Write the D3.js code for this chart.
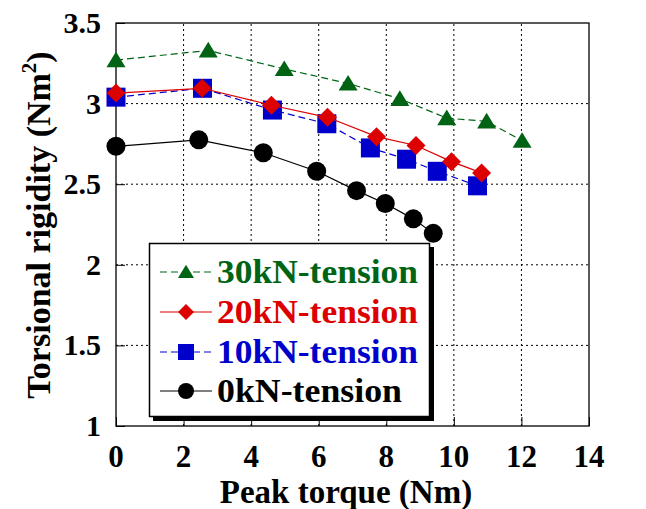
<!DOCTYPE html>
<html>
<head>
<meta charset="utf-8">
<script src="https://cdn.jsdelivr.net/npm/d3@7"></script>
</head>
<body style="margin:0;padding:0;background:#fff">
<svg id="chart" width="646" height="509" style="display:block"></svg>
<script>
// Peak torque (Nm) and torsional rigidity (Nm^2) per tension level
const torque30 = [0, 2.73, 4.98, 6.87, 8.40, 9.79, 10.97, 12.02];
const rigid30  = [3.27, 3.33, 3.215, 3.125, 3.03, 2.91, 2.89, 2.77];
const torque20 = [0, 2.55, 4.60, 6.26, 7.71, 8.88, 9.93, 10.82];
const rigid20  = [3.065, 3.095, 2.99, 2.915, 2.795, 2.74, 2.64, 2.57];
const torque10 = [0, 2.56, 4.63, 6.24, 7.53, 8.60, 9.51, 10.70];
const rigid10  = [3.04, 3.095, 2.96, 2.875, 2.725, 2.655, 2.58, 2.49];
const torque0  = [0, 2.45, 4.36, 5.94, 7.12, 7.97, 8.80, 9.39];
const rigid0   = [2.735, 2.775, 2.695, 2.58, 2.46, 2.38, 2.285, 2.195];

const xTicks = [0, 2, 4, 6, 8, 10, 12, 14];
const yTicks = [1, 1.5, 2, 2.5, 3, 3.5];

const series = [
  { name: '0kN-tension',  xs: torque0,  ys: rigid0,  color: '#000000', dash: null,  shape: 'circle' },
  { name: '10kN-tension', xs: torque10, ys: rigid10, color: '#0000cc', dash: '7,4', shape: 'square' },
  { name: '20kN-tension', xs: torque20, ys: rigid20, color: '#dd0000', dash: null,  shape: 'diamond' },
  { name: '30kN-tension', xs: torque30, ys: rigid30, color: '#006414', dash: '7,4', shape: 'triangle' }
];

const FONT = '"Liberation Serif", "Times New Roman", serif';

const svg = d3.select('#chart');
const plotL = 116, plotR = 589, plotT = 23, plotB = 426;

const x = d3.scaleLinear().domain([0, 14]).range([plotL, plotR]);
const y = d3.scaleLinear().domain([1, 3.5]).range([plotB, plotT]);

function label(sel) {
  return sel.style('font-family', FONT).style('font-weight', 'bold');
}

// grid (dotted)
const grid = svg.append('g');
xTicks.slice(1, -1).forEach(t => {
  grid.append('line')
    .attr('x1', x(t)).attr('x2', x(t)).attr('y1', plotB).attr('y2', plotT)
    .attr('stroke', '#000').attr('stroke-width', 1).attr('stroke-dasharray', '2,3');
});
yTicks.slice(1, -1).forEach(t => {
  grid.append('line')
    .attr('x1', plotL).attr('x2', plotR).attr('y1', y(t)).attr('y2', y(t))
    .attr('stroke', '#000').attr('stroke-width', 1).attr('stroke-dasharray', '2,3');
});

// axes with inward ticks
svg.append('g')
  .attr('transform', `translate(0,${plotB})`)
  .call(d3.axisBottom(x).tickValues(xTicks).tickSize(-9).tickFormat(''))
  .call(g => g.select('.domain').remove())
  .selectAll('line').attr('stroke', '#000');
svg.append('g')
  .attr('transform', `translate(${plotL},0)`)
  .call(d3.axisLeft(y).tickValues(yTicks).tickSize(-9).tickFormat(''))
  .call(g => g.select('.domain').remove())
  .selectAll('line').attr('stroke', '#000');

// frame
svg.append('rect')
  .attr('x', plotL).attr('y', plotT).attr('width', plotR - plotL).attr('height', plotB - plotT)
  .attr('fill', 'none').attr('stroke', '#000').attr('stroke-width', 1.3);

// tick labels
svg.append('g').selectAll('text').data(xTicks).join('text')
  .attr('x', d => x(d)).attr('y', 467)
  .attr('text-anchor', 'middle').style('font-size', '31px')
  .call(label)
  .text(d => d);
svg.append('g').selectAll('text').data(yTicks).join('text')
  .attr('x', 101).attr('y', d => y(d) + 10)
  .attr('text-anchor', 'end').style('font-size', '30px')
  .call(label)
  .text(d => d);

// axis titles
svg.append('text')
  .attr('x', 346).attr('y', 503)
  .attr('text-anchor', 'middle').style('font-size', '33px')
  .call(label)
  .text('Peak torque (Nm)');
const yt = svg.append('text')
  .attr('transform', 'translate(50,225) rotate(-90)')
  .attr('text-anchor', 'middle').style('font-size', '34px')
  .call(label);
yt.append('tspan').text('Torsional rigidity (Nm');
yt.append('tspan').style('font-size', '21px').attr('dy', -14).text('2');
yt.append('tspan').attr('dy', 14).text(')');

function marker(sel, shape, color, size) {
  const s = size;
  if (shape === 'circle') {
    sel.append('circle').attr('r', s / 2).attr('fill', color);
  } else if (shape === 'square') {
    sel.append('rect').attr('x', -s / 2).attr('y', -s / 2).attr('width', s).attr('height', s).attr('fill', color);
  } else if (shape === 'diamond') {
    const h = s / 2;
    sel.append('path').attr('d', `M0,${-h}L${h},0L0,${h}L${-h},0Z`).attr('fill', color);
  } else {
    const h = s / 2;
    sel.append('path').attr('d', `M0,${-h * 0.9}L${h},${h * 0.75}L${-h},${h * 0.75}Z`).attr('fill', color);
  }
}

const line = d3.line().x(d => x(d[0])).y(d => y(d[1]));
const sizes = { circle: 19, square: 19, diamond: 19, triangle: 19 };

series.forEach(s => {
  const pts = s.xs.map((v, i) => [v, s.ys[i]]);
  const g = svg.append('g');
  g.append('path').datum(pts)
    .attr('d', line).attr('fill', 'none')
    .attr('stroke', s.color).attr('stroke-width', 1.2)
    .attr('stroke-dasharray', s.dash);
  pts.forEach(p => {
    const m = g.append('g').attr('transform', `translate(${x(p[0])},${y(p[1])})`);
    marker(m, s.shape, s.color, sizes[s.shape]);
  });
});

// legend
const lg = svg.append('g');
lg.append('rect').attr('x', 153).attr('y', 247).attr('width', 281).attr('height', 174).attr('fill', '#000');
lg.append('rect').attr('x', 149.5).attr('y', 243.5).attr('width', 280).attr('height', 173)
  .attr('fill', '#fff').attr('stroke', '#000').attr('stroke-width', 1.5);

const legendOrder = series.slice().reverse();
const baselines = [283, 323, 363, 402];
const textLens = [201, 201, 201, 185];
legendOrder.forEach((s, i) => {
  const by = baselines[i];
  const my = by - 11;
  lg.append('line')
    .attr('x1', 160).attr('x2', 212).attr('y1', my).attr('y2', my)
    .attr('stroke', s.color).attr('stroke-width', 1.2)
    .attr('stroke-dasharray', s.dash);
  const m = lg.append('g').attr('transform', `translate(186,${my})`);
  marker(m, s.shape, s.color, 16);
  lg.append('text')
    .attr('x', 217).attr('y', by)
    .style('font-size', '34px').attr('fill', s.color)
    .call(label)
    .attr('textLength', textLens[i]).attr('lengthAdjust', 'spacingAndGlyphs')
    .text(s.name);
});
</script>
</body>
</html>
